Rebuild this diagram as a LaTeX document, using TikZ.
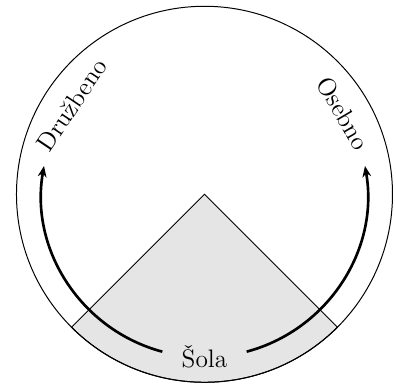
\documentclass[tikz,border=0pt]{standalone}
\usetikzlibrary{arrows.meta}
\begin{document}
\begin{tikzpicture}[
  outline/.style={line width=0.45pt},
  sector/.style={outline, fill=gray!20},
  cyclearrow/.style={line width=1.2pt, -{Stealth[length=5pt,width=4pt]}},
  lbl/.style={font=\fontsize{11.5}{13}\selectfont, inner sep=0pt}
]
\useasboundingbox (-3.263,-3.059) rectangle (3.056,3.100);
\coordinate (c) at (0,0);
\filldraw[sector] (c) -- (225:3) arc[start angle=225, end angle=315, radius=3] -- cycle;
\draw[outline] (c) circle[radius=3];
\coordinate (ls) at (255:2.6);
\coordinate (rs) at (285:2.6);
\draw[cyclearrow] (ls) arc[start angle=255, end angle=170, radius=2.6];
\draw[cyclearrow] (rs) arc[start angle=285, end angle=370, radius=2.6];
\node[lbl] (sola) at (270:2.6) {Šola};
\node[lbl, rotate=56] (druzbeno) at (146:2.55) {Družbeno};
\node[lbl, rotate=-59.7] (osebno) at (30.3:2.56) {Osebno};
\end{tikzpicture}
\end{document}
